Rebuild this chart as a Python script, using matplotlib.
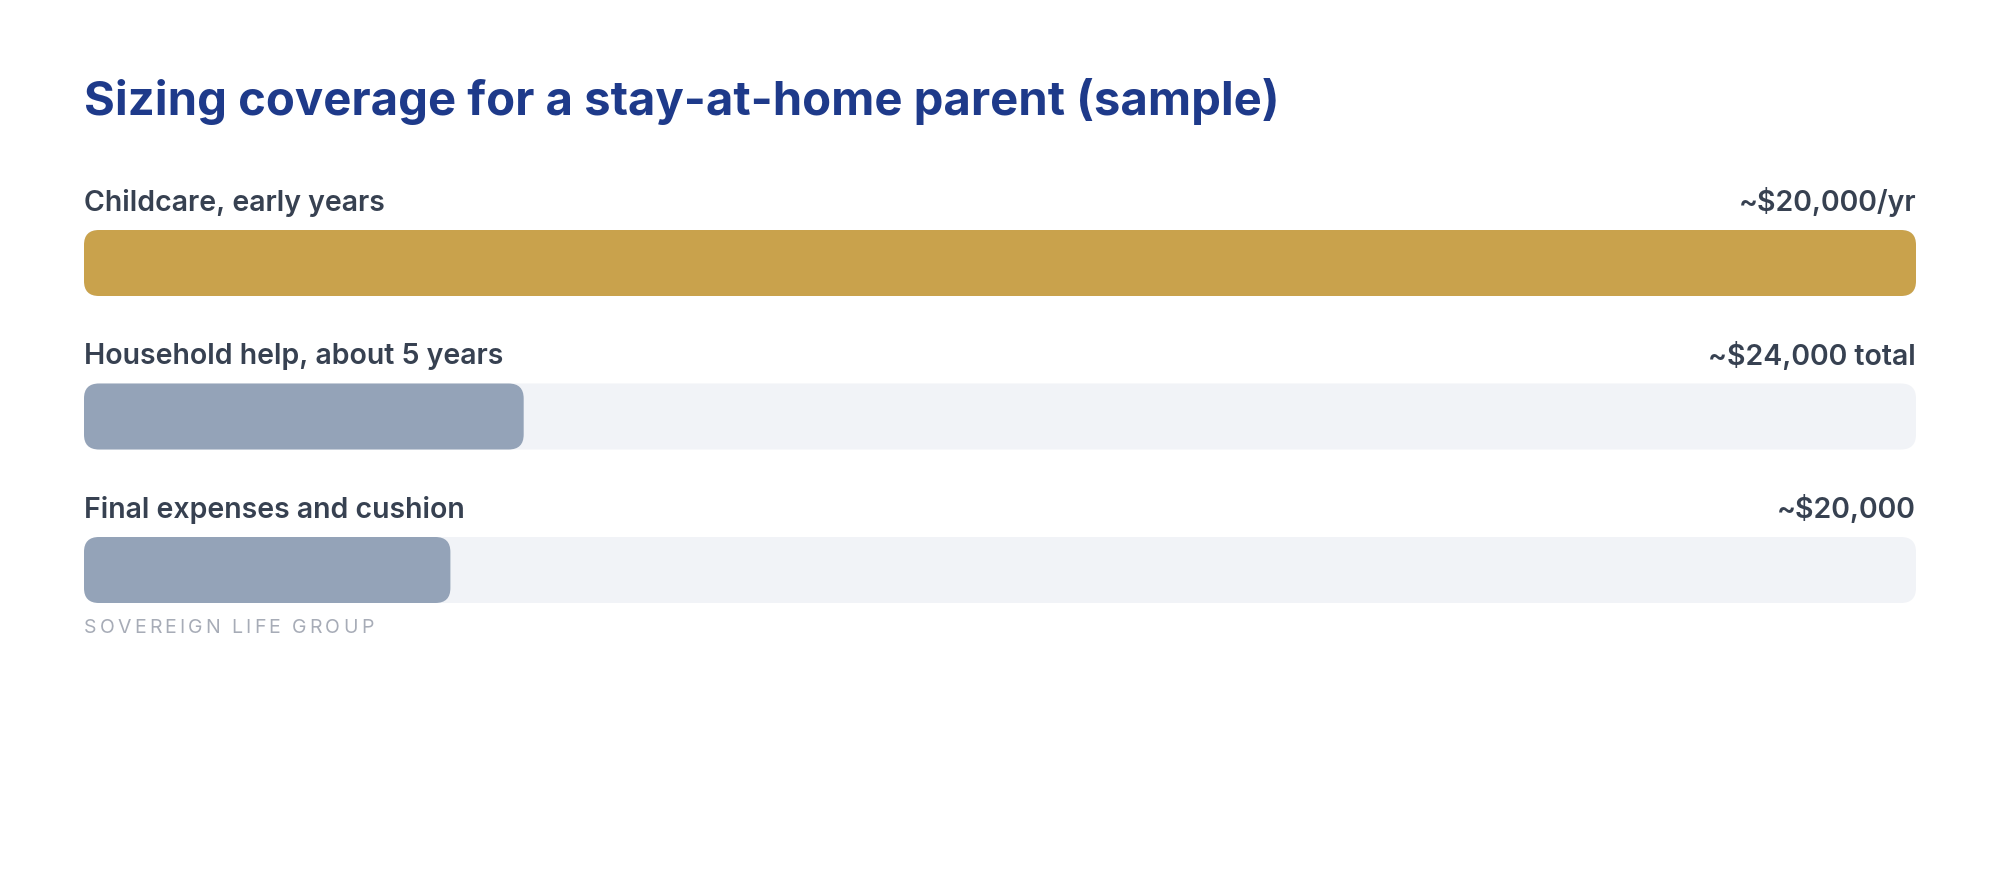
import matplotlib.pyplot as plt
from matplotlib.patches import FancyBboxPatch
from matplotlib.font_manager import FontProperties

plt.rcParams['font.family'] = ['Inter', 'DejaVu Sans']

title = 'Sizing coverage for a stay-at-home parent (sample)'
categories = ['Childcare, early years', 'Household help, about 5 years', 'Final expenses and cushion']
value_labels = ['~$20,000/yr', '~$24,000 total', '~$20,000']
values = [100000, 24000, 20000]
scale_max = 100000
footer = 'SOVEREIGN LIFE GROUP'

bar_colors = ['#C9A24C', '#94A3B8', '#94A3B8']
track_color = '#F1F3F7'
label_color = '#374151'

W, H = 2000, 880
fig = plt.figure(figsize=(W / 100, H / 100), dpi=100)
fig.patch.set_facecolor('white')

left_px, right_px = 84, 1916
ax = fig.add_axes([left_px / W, 0, (right_px - left_px) / W, 1])
ax.set_xlim(0, scale_max)
ax.set_ylim(H, 0)  # y in pixels, top down
ax.axis('off')

# x data units per pixel, used to keep corners round
x_per_px = scale_max / (right_px - left_px)
radius_px = 15
bar_h = 66
first_top = 230
row_step = 153.5

fig.text(left_px / W, 1 - 115 / H, title, fontsize=34, fontweight='bold',
         color='#1E3A8A', ha='left', va='baseline')


def rounded(x0, width, top, color):
    box = FancyBboxPatch((x0, top), width, bar_h,
                         boxstyle=f'round,pad=0,rounding_size={radius_px * x_per_px}',
                         mutation_aspect=1 / x_per_px,
                         facecolor=color, edgecolor='none')
    ax.add_patch(box)


for i, (cat, vl, v) in enumerate(zip(categories, value_labels, values)):
    top = first_top + row_step * i
    rounded(0, scale_max, top, track_color)
    rounded(0, v, top, bar_colors[i])
    ax.text(0, top - 19, cat, fontsize=20.5, fontweight='semibold',
            color=label_color, ha='left', va='baseline')
    ax.text(scale_max, top - 19, vl, fontsize=20.5, fontweight='semibold',
            color=label_color, ha='right', va='baseline')

# footer with letter spacing, placed char by char
renderer = fig.canvas.get_renderer()
prop = FontProperties(family=['Inter', 'DejaVu Sans'], size=14)
spacing_px = 3.1
for k, ch in enumerate(footer):
    if ch == ' ':
        continue
    w, _, _ = renderer.get_text_width_height_descent(footer[:k], prop, ismath=False) if k else (0, 0, 0)
    x = 0 + (w + k * spacing_px) * x_per_px
    ax.text(x, 633, ch, fontproperties=prop, color='#A7ACB7', ha='left', va='baseline')

fig.savefig('out.png', dpi=100, facecolor='white')
